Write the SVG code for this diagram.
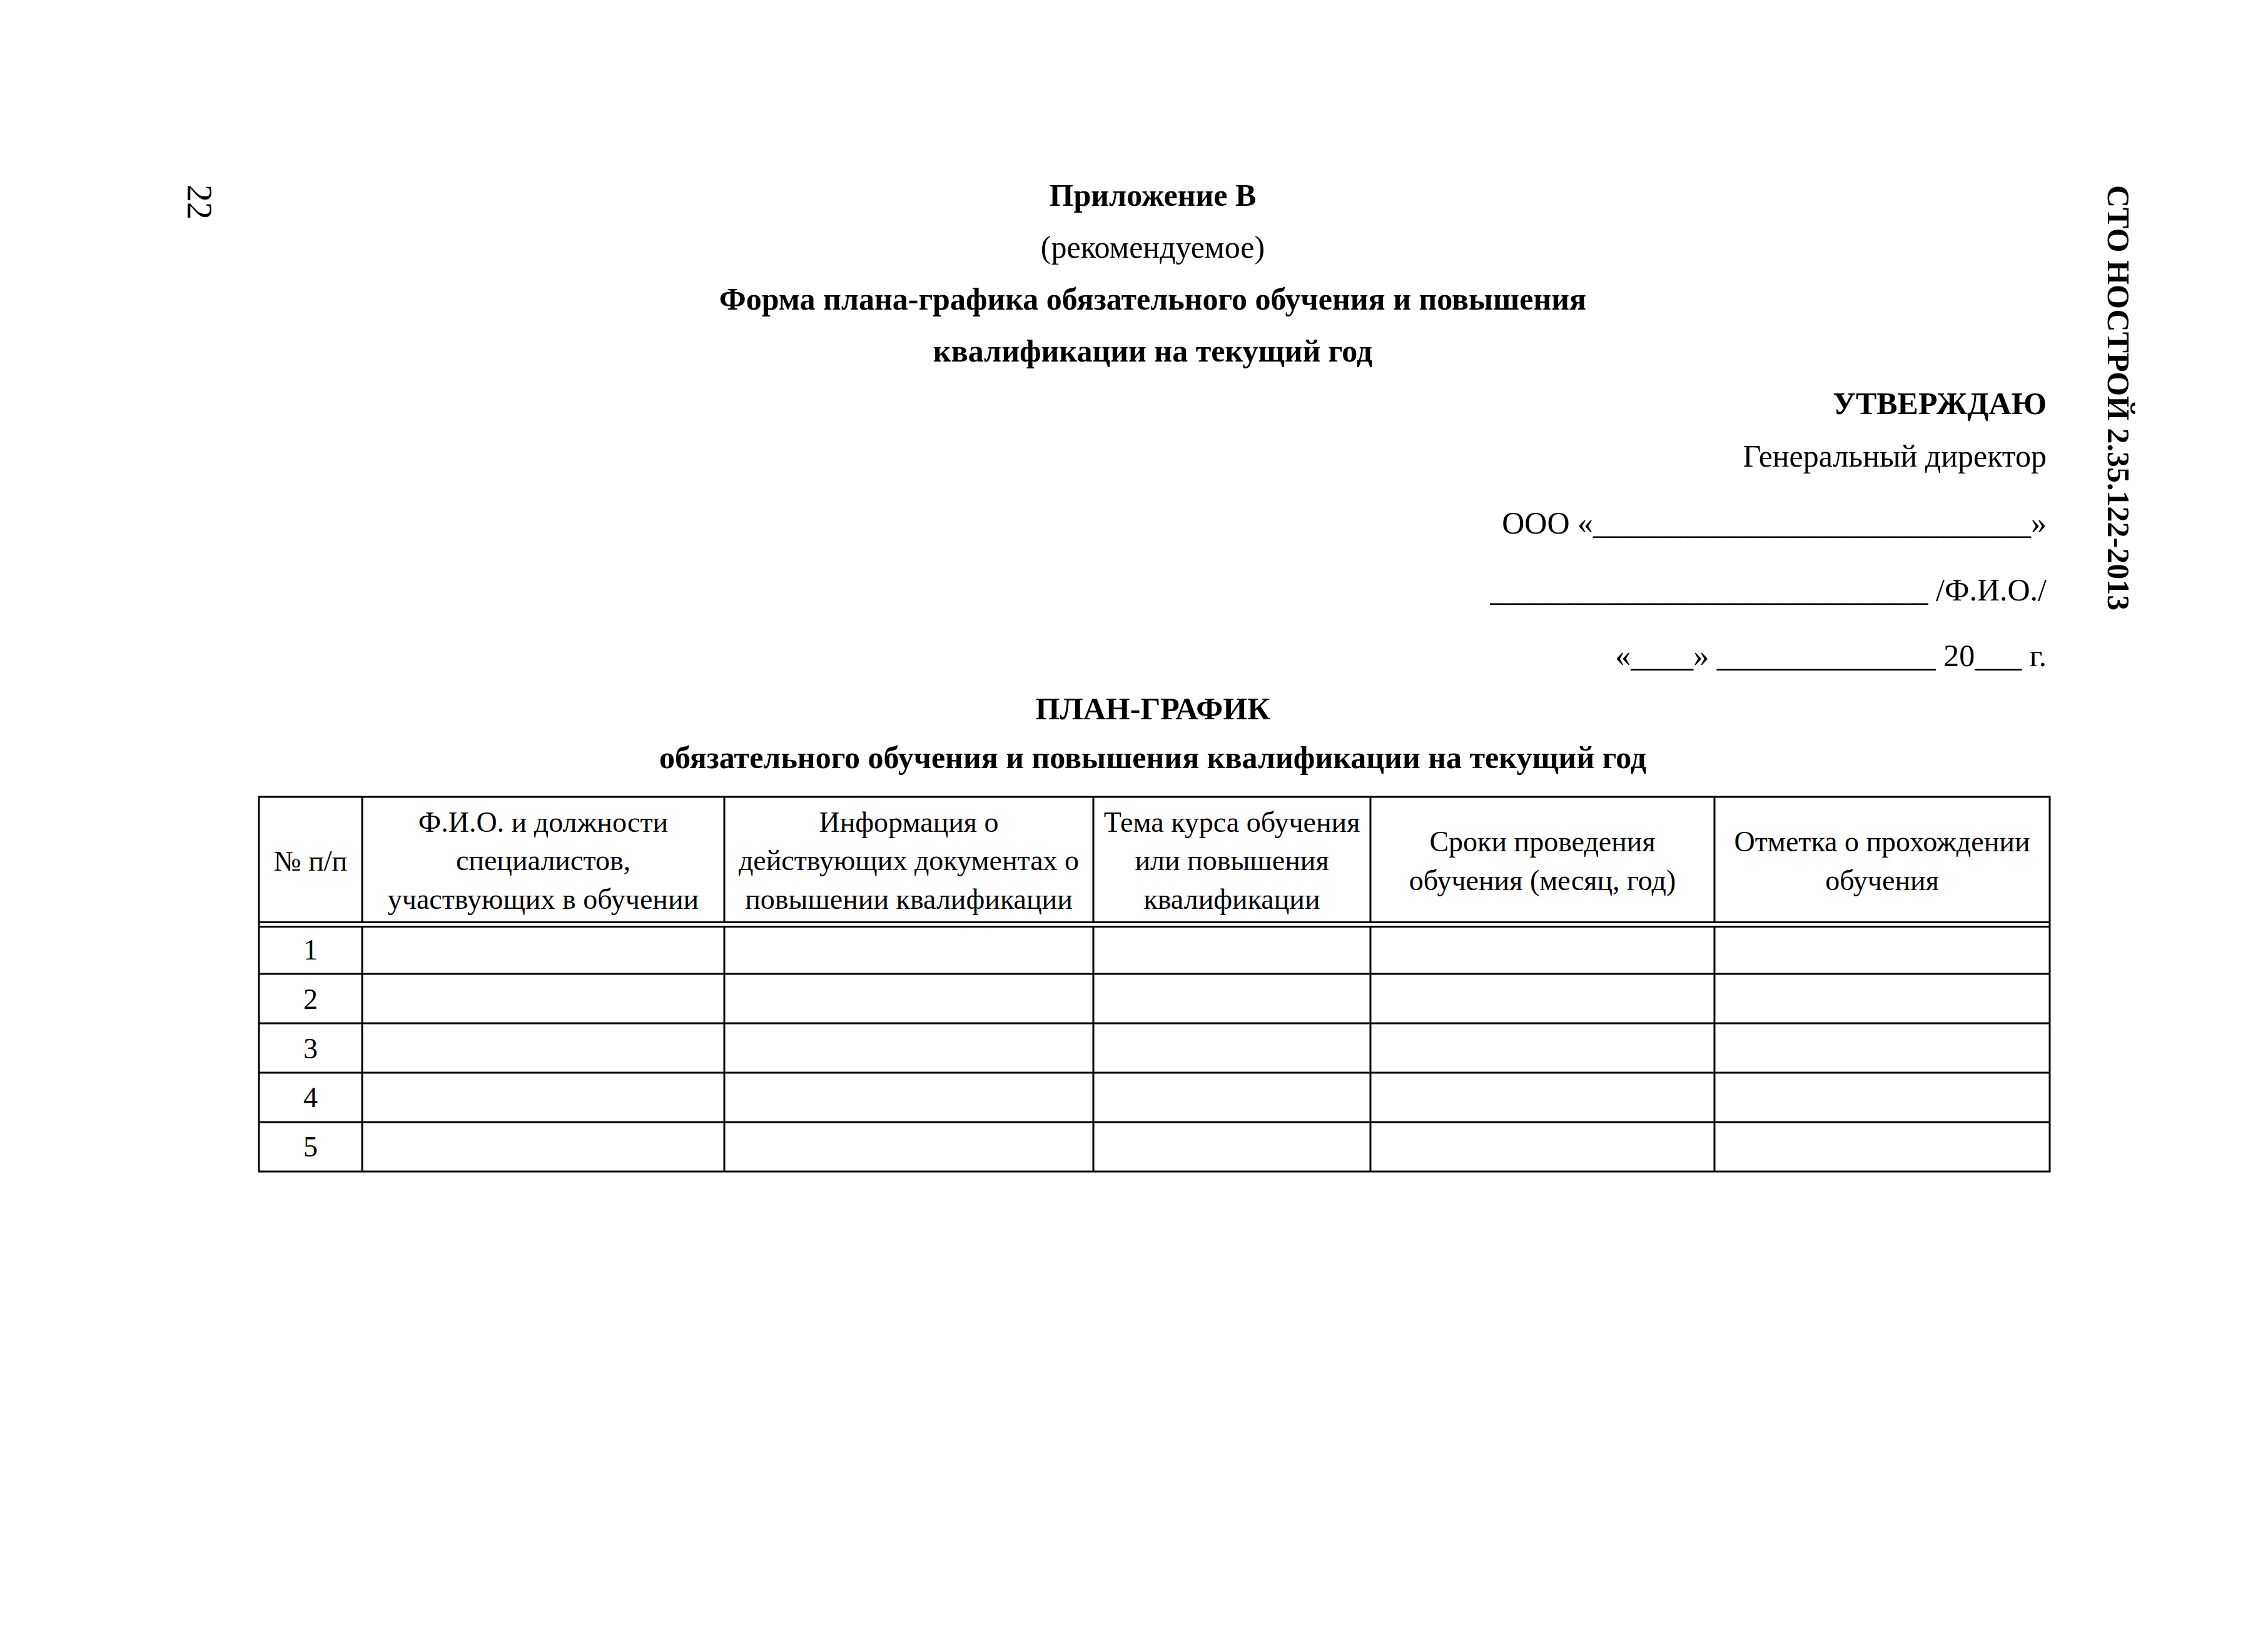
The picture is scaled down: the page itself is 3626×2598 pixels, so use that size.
<svg xmlns="http://www.w3.org/2000/svg" width="3626" height="2598" viewBox="0 0 3626 2598">
<style>
text{font-family:"Liberation Serif","Times New Roman",serif;fill:#000}
.b{font-weight:bold}
.t50{font-size:50px}
.t46{font-size:46px}
.c{text-anchor:middle}
.r{text-anchor:end}
.ln{stroke:#000;stroke-width:3;fill:none}
</style>
<rect width="3626" height="2598" fill="#fff"/>
<g id="margin">
<text style="font-size:56px" transform="translate(300,295) rotate(90)">22</text>
<text class="t50 b" transform="translate(3370,296) rotate(90)">СТО НОСТРОЙ 2.35.122-2013</text>
</g>
<g id="title">
<text class="t50 b c" x="1843" y="329">Приложение В</text>
<text class="t50 c" x="1843" y="412">(рекомендуемое)</text>
<text class="t50 b c" x="1843" y="495">Форма плана-графика обязательного обучения и повышения</text>
<text class="t50 b c" x="1843" y="578">квалификации на текущий год</text>
</g>
<g id="approval">
<text class="t50 b r" x="3272" y="662">УТВЕРЖДАЮ</text>
<text class="t50 r" x="3272" y="746">Генеральный директор</text>
<text class="t50 r" x="3272" y="853">ООО «____________________________»</text>
<text class="t50 r" x="3272" y="960">____________________________ /Ф.И.О./</text>
<text class="t50 r" x="3272" y="1065">«____» ______________ 20___ г.</text>
</g>
<g id="plan-title">
<text class="t50 b c" x="1843" y="1150">ПЛАН-ГРАФИК</text>
<text class="t50 b c" x="1843" y="1228">обязательного обучения и повышения квалификации на текущий год</text>
</g>
<g id="table">
<g id="grid">
<rect class="ln" x="414" y="1274" width="2863" height="599"/>
<line class="ln" x1="414" y1="1474.5" x2="3277" y2="1474.5"/>
<line class="ln" x1="414" y1="1481.5" x2="3277" y2="1481.5"/>
<line class="ln" x1="414" y1="1557" x2="3277" y2="1557"/>
<line class="ln" x1="414" y1="1636" x2="3277" y2="1636"/>
<line class="ln" x1="414" y1="1715" x2="3277" y2="1715"/>
<line class="ln" x1="414" y1="1794" x2="3277" y2="1794"/>
<path class="ln" d="M579 1274V1474.5M579 1481.5V1873M1158 1274V1474.5M1158 1481.5V1873M1748 1274V1474.5M1748 1481.5V1873M2191 1274V1474.5M2191 1481.5V1873M2741 1274V1474.5M2741 1481.5V1873"/>
</g>
<g id="header">
<text class="t46 c" x="496.5" y="1392">№ п/п</text>
<text class="t46 c" x="868.5" y="1330">Ф.И.О. и должности</text>
<text class="t46 c" x="868.5" y="1391">специалистов,</text>
<text class="t46 c" x="868.5" y="1453">участвующих в обучении</text>
<text class="t46 c" x="1453" y="1330">Информация о</text>
<text class="t46 c" x="1453" y="1391">действующих документах о</text>
<text class="t46 c" x="1453" y="1453">повышении квалификации</text>
<text class="t46 c" x="1969.5" y="1330">Тема курса обучения</text>
<text class="t46 c" x="1969.5" y="1391">или повышения</text>
<text class="t46 c" x="1969.5" y="1453">квалификации</text>
<text class="t46 c" x="2466" y="1361">Сроки проведения</text>
<text class="t46 c" x="2466" y="1423">обучения (месяц, год)</text>
<text class="t46 c" x="3009" y="1361">Отметка о прохождении</text>
<text class="t46 c" x="3009" y="1423">обучения</text>
</g>
<g id="rows">
<text class="t46 c" x="496.5" y="1534">1</text>
<text class="t46 c" x="496.5" y="1613">2</text>
<text class="t46 c" x="496.5" y="1692">3</text>
<text class="t46 c" x="496.5" y="1770">4</text>
<text class="t46 c" x="496.5" y="1849">5</text>
</g>
</g>
</svg>
